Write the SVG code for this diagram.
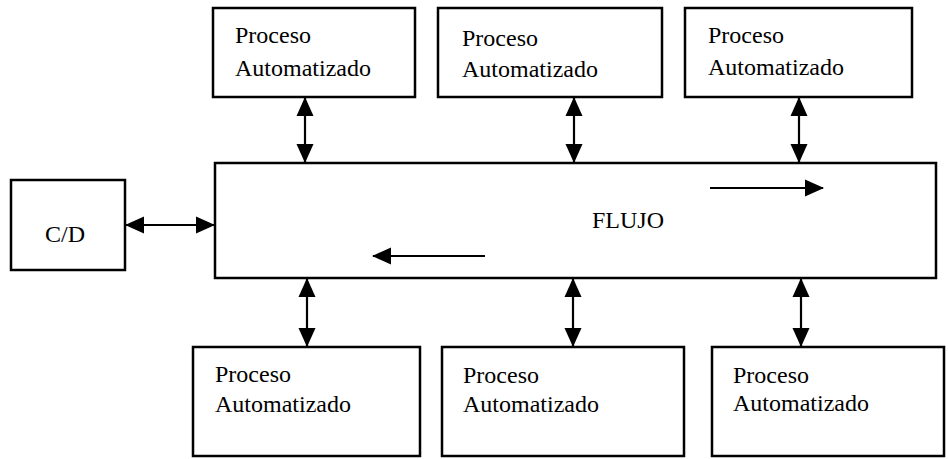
<svg xmlns="http://www.w3.org/2000/svg" width="948" height="459" viewBox="0 0 948 459">
<style>
.box{fill:#fff;stroke:#000;stroke-width:2.5}
.t{font-family:"Liberation Serif","Times New Roman",serif;font-size:24px;fill:#000}
.c{stroke:#000;stroke-width:2.2;fill:none}
</style>
<defs>
<marker id="ah" markerUnits="userSpaceOnUse" markerWidth="20" markerHeight="20" refX="18" refY="10" orient="auto-start-reverse">
<path d="M0,1.5 L19,10 L0,18.5 Z" fill="#000"/>
</marker>
</defs>
<rect width="948" height="459" fill="#fff"/>
<g id="p1"><rect class="box" x="213" y="8" width="202" height="89"/><text class="t" x="235" y="43">Proceso</text><text class="t" x="235" y="76">Automatizado</text></g>
<g id="p2"><rect class="box" x="438" y="8" width="224" height="89"/><text class="t" x="462" y="46">Proceso</text><text class="t" x="462" y="77">Automatizado</text></g>
<g id="p3"><rect class="box" x="685" y="8" width="227" height="89"/><text class="t" x="708" y="43">Proceso</text><text class="t" x="708" y="75">Automatizado</text></g>
<g id="flujo"><rect class="box" x="215" y="163" width="721" height="115"/><text class="t" x="592" y="228">FLUJO</text></g>
<g id="cd"><rect class="box" x="11" y="180" width="114" height="90"/><text class="t" x="45" y="242">C/D</text></g>
<g id="p4"><rect class="box" x="193" y="347" width="227" height="109"/><text class="t" x="215" y="382">Proceso</text><text class="t" x="215" y="412">Automatizado</text></g>
<g id="p5"><rect class="box" x="442" y="347" width="242" height="109"/><text class="t" x="463" y="383">Proceso</text><text class="t" x="463" y="412">Automatizado</text></g>
<g id="p6"><rect class="box" x="712" y="347" width="232" height="109"/><text class="t" x="733" y="383">Proceso</text><text class="t" x="733" y="411">Automatizado</text></g>
<g id="connectors">
<line class="c" x1="305" y1="98" x2="305" y2="162" marker-start="url(#ah)" marker-end="url(#ah)"/>
<line class="c" x1="574" y1="98" x2="574" y2="162" marker-start="url(#ah)" marker-end="url(#ah)"/>
<line class="c" x1="799" y1="98" x2="799" y2="162" marker-start="url(#ah)" marker-end="url(#ah)"/>
<line class="c" x1="307" y1="279" x2="307" y2="346" marker-start="url(#ah)" marker-end="url(#ah)"/>
<line class="c" x1="573" y1="279" x2="573" y2="346" marker-start="url(#ah)" marker-end="url(#ah)"/>
<line class="c" x1="801" y1="279" x2="801" y2="346" marker-start="url(#ah)" marker-end="url(#ah)"/>
<line class="c" x1="126" y1="225" x2="214" y2="225" marker-start="url(#ah)" marker-end="url(#ah)"/>
<line class="c" x1="710" y1="188" x2="823" y2="188" marker-end="url(#ah)"/>
<line class="c" x1="485" y1="256" x2="373" y2="256" marker-end="url(#ah)"/>
</g>
</svg>
